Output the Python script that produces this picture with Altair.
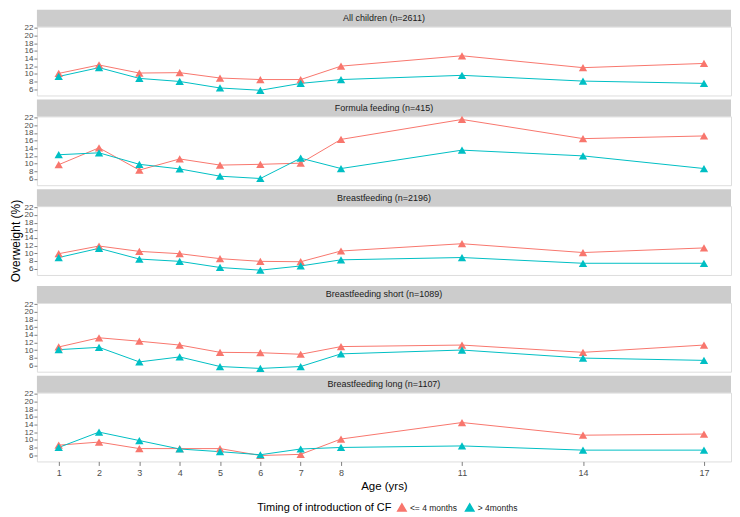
import altair as alt
import pandas as pd

ages = [1, 2, 3, 4, 5, 6, 7, 8, 11, 14, 17]
groups = ["<= 4 months", "> 4months"]
colors = ["#F8766D", "#00BFC4"]

panel_titles = [
    "All children (n=2611)",
    "Formula feeding (n=415)",
    "Breastfeeding (n=2196)",
    "Breastfeeding short (n=1089)",
    "Breastfeeding long (n=1107)",
]

early_all = [10.1, 12.3, 10.2, 10.3, 8.9, 8.5, 8.5, 12.0, 14.7, 11.6, 12.7]
late_all = [9.3, 11.6, 8.8, 8.0, 6.3, 5.7, 7.5, 8.5, 9.6, 8.1, 7.5]

early_formula = [9.7, 14.1, 8.3, 11.2, 9.6, 9.8, 10.1, 16.3, 21.5, 16.5, 17.2]
late_formula = [12.3, 12.8, 9.8, 8.6, 6.7, 6.1, 11.4, 8.7, 13.5, 12.0, 8.7]

early_breast = [9.9, 11.9, 10.5, 9.9, 8.6, 7.9, 7.8, 10.6, 12.5, 10.2, 11.4]
late_breast = [8.9, 11.3, 8.5, 7.9, 6.3, 5.6, 6.7, 8.3, 8.9, 7.4, 7.4]

early_short = [10.8, 13.2, 12.3, 11.3, 9.4, 9.3, 8.9, 10.9, 11.3, 9.4, 11.3]
late_short = [10.1, 10.7, 6.9, 8.2, 5.7, 5.2, 5.7, 9.0, 10.0, 7.9, 7.3]

early_long = [8.6, 9.4, 7.7, 7.7, 7.7, 5.9, 6.2, 10.2, 14.5, 11.2, 11.5]
late_long = [8.0, 12.0, 9.8, 7.6, 6.9, 6.1, 7.6, 8.0, 8.4, 7.3, 7.3]

series = [
    (early_all, late_all),
    (early_formula, late_formula),
    (early_breast, late_breast),
    (early_short, late_short),
    (early_long, late_long),
]

y_ticks = [6, 8, 10, 12, 14, 16, 18, 20, 22]
x_ticks = ages

FONT = "Liberation Sans"
W = 696
H = 69
STRIP = 17

x_scale = alt.Scale(domain=[0.46, 17.67], nice=False, zero=False)
y_scale = alt.Scale(domain=[4.35, 22.3], nice=False, zero=False)
color_scale = alt.Scale(domain=groups, range=colors)


def panel(i):
    title = panel_titles[i]
    early, late = series[i]
    df = pd.DataFrame({
        "age": ages + ages,
        "value": early + late,
        "timing": [groups[0]] * len(ages) + [groups[1]] * len(ages),
    })
    last = i == len(panel_titles) - 1
    mid = i == 2
    if last:
        x_axis = alt.Axis(values=x_ticks, title="Age (yrs)", grid=False, domain=False,
                          tickColor="#7F7F7F", tickSize=4, labelFontSize=9,
                          labelColor="#4D4D4D", labelPadding=3, titleFontSize=11.5,
                          titleFontWeight="normal", titleColor="#000000",
                          titlePadding=3, labelFont=FONT, titleFont=FONT)
    else:
        x_axis = None
    y_axis = alt.Axis(values=y_ticks, title="Overweight (%)" if mid else "",
                      grid=False, domain=False, tickColor="#7F7F7F", tickSize=3,
                      labelFontSize=8, labelColor="#4D4D4D", labelPadding=1,
                      labelOverlap=False, labelBound=False,
                      titleFontSize=12, titleFontWeight="normal",
                      titleColor="#000000", titlePadding=2,
                      labelFont=FONT, titleFont=FONT)
    base = alt.Chart(df).encode(
        x=alt.X("age:Q", scale=x_scale, axis=x_axis),
        y=alt.Y("value:Q", scale=y_scale, axis=y_axis),
        color=alt.Color("timing:N", scale=color_scale,
                        legend=alt.Legend(title="Timing of introduction of CF",
                                          orient="none", direction="horizontal",
                                          titleOrient="left", legendX=221,
                                          legendY=477, symbolType="triangle-up",
                                          symbolSize=70, labelFontSize=8.5,
                                          titleFontSize=11, titleFontWeight="normal",
                                          titleColor="#000000", labelColor="#1A1A1A",
                                          labelFont=FONT, titleFont=FONT,
                                          labelOffset=3, columnPadding=4,
                                          titlePadding=5)),
    )
    lines = base.mark_line(strokeWidth=1)
    pts = base.mark_point(shape="triangle-up", filled=True, size=70, opacity=1)
    strip_df = pd.DataFrame({"label": [title]})
    strip = alt.Chart(strip_df).mark_rect(color="#CCCCCC").encode(
        x=alt.value(0), x2=alt.value(W), y=alt.value(-STRIP), y2=alt.value(0))
    strip_txt = alt.Chart(strip_df).mark_text(fontSize=9, color="#1A1A1A", font=FONT).encode(
        text="label:N", x=alt.value(W / 2), y=alt.value(-STRIP / 2))
    return alt.layer(strip, strip_txt, lines, pts).properties(width=W, height=H)


chart = alt.vconcat(*[panel(i) for i in range(5)], spacing=2).properties(
    padding={"left": 0, "top": 0, "right": 0, "bottom": 0}
).configure_view(stroke="#A6A6A6", strokeWidth=1).configure(font=FONT)

chart.save("out.html", embed_options={"renderer": "svg", "actions": False})
